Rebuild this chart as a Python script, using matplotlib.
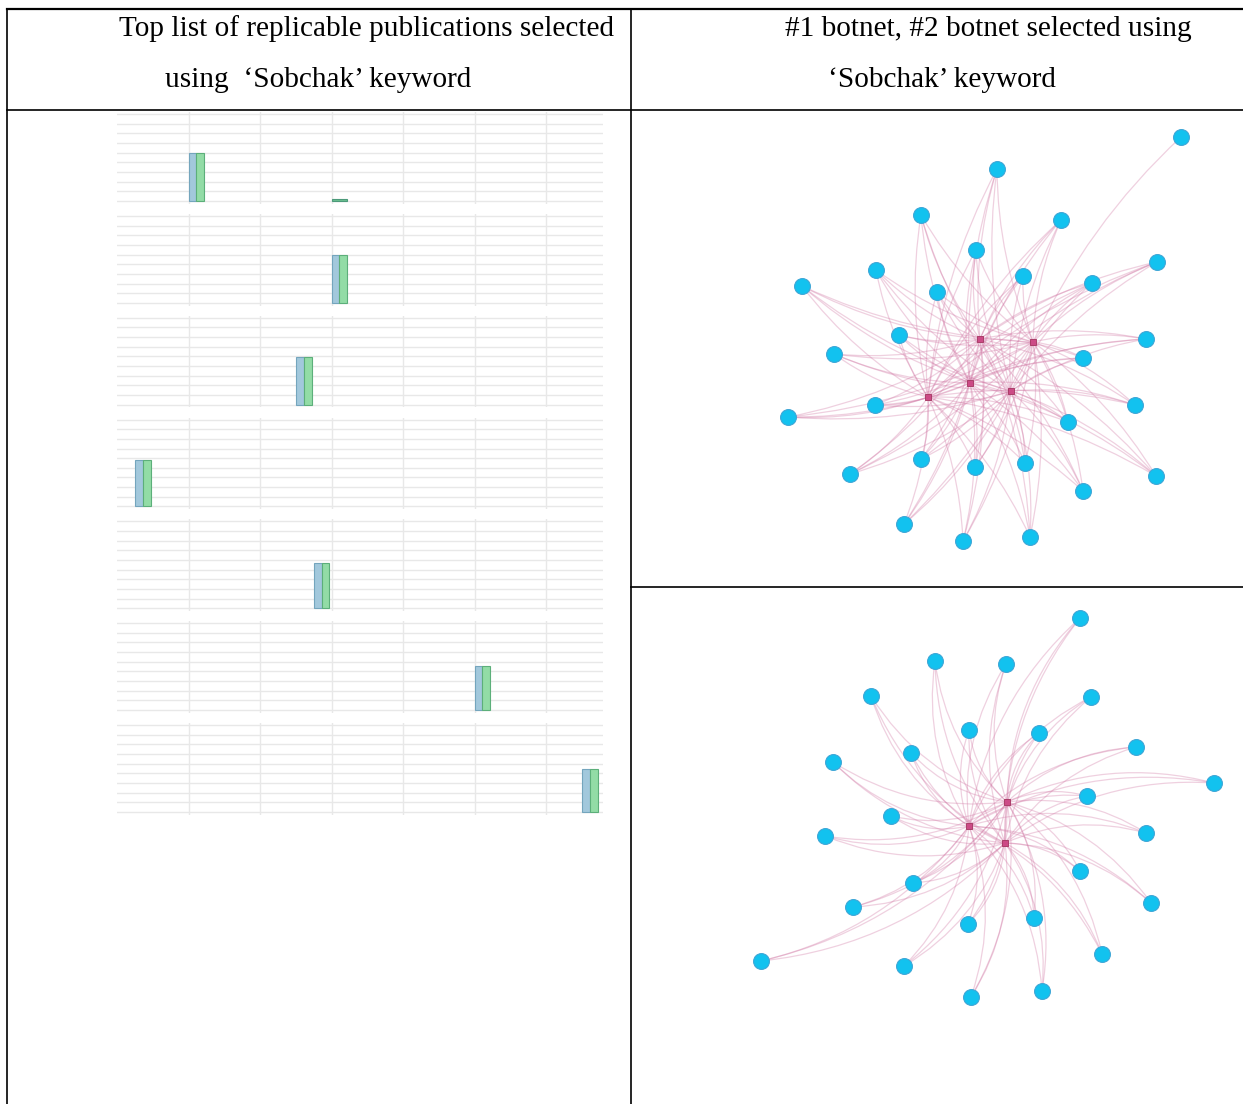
import numpy as np
import matplotlib.pyplot as plt
from matplotlib.patches import FancyArrowPatch

W, H = 1243, 1104

# --- left column: one small bar chart per publication ---
blue_left = [1.0, 3.0, 2.5, 0.25, 2.75, 5.0, 6.5]
bar_height = [5.0, 5.0, 4.9, 4.8, 4.7, 4.6, 4.4]
extra_left = [3.0]
extra_height = [0.2]

# --- right column: bot accounts (cyan) around hub posts (pink) ---
g1_hubs = [(349, 229), (402, 232), (339, 273), (380, 281), (297, 287)]
g1_bots = [(550, 27), (366, 59), (290, 105), (430, 110), (345, 140), (245, 160),
           (526, 152), (392, 166), (461, 173), (171, 176), (306, 182), (268, 225),
           (515, 229), (203, 244), (452, 248), (244, 295), (157, 307), (504, 295),
           (437, 312), (290, 349), (344, 357), (394, 353), (219, 364), (525, 366),
           (452, 381), (273, 414), (332, 431), (399, 427)]

g2_hubs = [(376, 215), (338, 239), (374, 256)]
g2_bots = [(449, 31), (304, 74), (375, 77), (240, 109), (460, 110), (338, 143),
           (408, 146), (280, 166), (505, 160), (202, 175), (583, 196), (456, 209),
           (260, 229), (194, 249), (515, 246), (449, 284), (282, 296), (222, 320),
           (520, 316), (337, 337), (403, 331), (471, 367), (130, 374), (273, 379),
           (411, 404), (340, 410)]

header_left = ["Top list of replicable publications selected", "using  \u2018Sobchak\u2019 keyword"]
header_right = ["#1 botnet, #2 botnet selected using", "\u2018Sobchak\u2019 keyword"]

fig = plt.figure(figsize=(W / 100, H / 100), dpi=100)
fig.patch.set_facecolor('white')


def px_axes(x0, y0, x1, y1):
    return fig.add_axes([x0 / W, 1 - y1 / H, (x1 - x0) / W, (y1 - y0) / H])


# table frame and headers
tab = fig.add_axes([0, 0, 1, 1])
tab.set_xlim(0, W)
tab.set_ylim(H, 0)
tab.axis('off')
tab.plot([7, W], [9, 9], color='black', lw=1.6)
tab.plot([7, W], [110, 110], color='black', lw=1.2)
tab.plot([631, W], [587, 587], color='black', lw=1.2)
tab.plot([7, 7], [9, H], color='black', lw=1.2)
tab.plot([631, 631], [9, H], color='black', lw=1.2)

font = dict(family='Liberation Serif', fontsize=21.1, va='baseline', color='black')
tab.text(119, 36, header_left[0], **font)
tab.text(165, 87, header_left[1], **font)
tab.text(785, 36, header_right[0], **font)
tab.text(828, 87, header_right[1], **font)

# bar charts
unit_px = 71.5
row_px = 9.65
for i in range(7):
    base = 201 + i * 101.8
    ax = px_axes(188.6 - unit_px, base - 9.2 * row_px, 188.6 + 5.8 * unit_px, base + 0.3 * row_px)
    ax.set_xlim(0, 6.8)
    ax.set_ylim(-0.3, 9.2)
    ax.set_xticks(range(1, 7))
    ax.set_yticks(range(0, 10))
    ax.grid(True, color='#e8e8e8', lw=1.0)
    ax.set_axisbelow(True)
    ax.tick_params(length=0, labelbottom=False, labelleft=False)
    for s in ax.spines.values():
        s.set_visible(False)
    w = 0.11
    ax.bar(blue_left[i], bar_height[i], width=w, align='edge',
           color='#a2c8dc', edgecolor='#74a5bd', lw=0.8)
    ax.bar(blue_left[i] + w, bar_height[i], width=w, align='edge',
           color='#92dca6', edgecolor='#5caf7a', lw=0.8)
    if i == 0:
        ax.bar(extra_left[0], extra_height[0], width=2 * w, align='edge',
               color='#6cc090', edgecolor='#4c9a7a', lw=0.8)


def draw_network(ax, bots, hubs, rad):
    for bx, by in bots:
        targets = hubs
        if (bx, by) == (550, 27):
            targets = [hubs[1]]
        for hx, hy in targets:
            ax.add_patch(FancyArrowPatch((bx, by), (hx, hy), arrowstyle='-',
                                         connectionstyle=f'arc3,rad={rad}',
                                         color='#d27aa6', alpha=0.35, lw=0.9,
                                         shrinkA=0, shrinkB=0))
    bx, by = zip(*bots)
    ax.scatter(bx, by, s=130, color='#12c2ef', edgecolor='#3ea6d6', lw=0.8, zorder=3)
    hx, hy = zip(*hubs)
    ax.scatter(hx, hy, s=14, marker='s', color='#cc4a86', edgecolor='#a3345f',
               lw=0.6, zorder=4)


for (y0, y1), bots, hubs, rad in [((110, 587), g1_bots, g1_hubs, 0.1),
                                  ((587, H), g2_bots, g2_hubs, 0.18)]:
    ax = px_axes(631, y0, W, y1)
    ax.set_xlim(0, W - 631)
    ax.set_ylim(y1 - y0, 0)
    ax.axis('off')
    ax.patch.set_alpha(0)
    draw_network(ax, bots, hubs, rad)

fig.savefig('out.png', dpi=100)
